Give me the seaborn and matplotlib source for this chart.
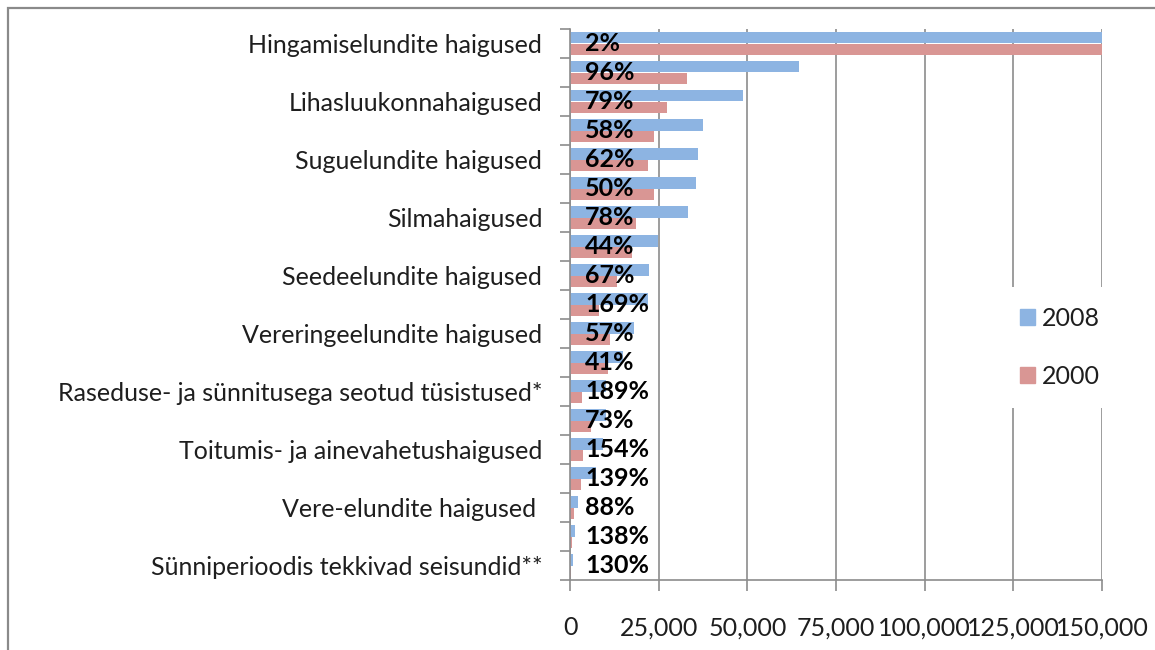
import pandas as pd
import seaborn as sns
import matplotlib.pyplot as plt
from matplotlib.patches import Rectangle
from matplotlib.ticker import FuncFormatter, FixedLocator

# haiguste grupid (näidatud on iga teine silt)
labels = ['Hingamiselundite haigused', '', 'Lihasluukonnahaigused', '',
          'Suguelundite haigused', '', 'Silmahaigused', '',
          'Seedeelundite haigused', '', 'Vereringeelundite haigused', '',
          'Raseduse- ja sünnitusega seotud tüsistused*', '',
          'Toitumis- ja ainevahetushaigused', '', 'Vere-elundite haigused ', '',
          'Sünniperioodis tekkivad seisundid**']
v2008 = [163000, 64600, 48800, 37600, 36200, 35400, 33300, 24800, 22400, 22100,
         18000, 14900, 10100, 10100, 9400, 7200, 2200, 1500, 750]
v2000 = [160000, 32900, 27400, 23600, 22100, 23600, 18500, 17400, 13300, 8200,
         11400, 10600, 3500, 5800, 3700, 3000, 1150, 630, 330]
pct = [2, 96, 79, 58, 62, 50, 78, 44, 67, 169, 57, 41, 189, 73, 154, 139, 88, 138, 130]
years = ['2008', '2000']
colors = ['#8DB4E2', '#D99694']

n = len(labels)
df = pd.DataFrame({
    'pos': list(range(n)) * 2,
    'value': v2008 + v2000,
    'year': ['2008'] * n + ['2000'] * n,
})

sns.set_style('white')
plt.rcParams['font.family'] = ['Lato', 'DejaVu Sans']

fig = plt.figure(figsize=(11.55, 6.5), dpi=100)
ax = fig.add_axes([570 / 1155, 1 - 580 / 650, 532 / 1155, 551 / 650])

sns.barplot(data=df, y='pos', x='value', hue='year', hue_order=years,
            palette=colors, orient='h', saturation=1, errorbar=None,
            linewidth=0, ax=ax, legend=True)

ax.set_xlim(0, 150000)
ax.set_xticks(range(0, 150001, 25000))
ax.xaxis.set_major_formatter(FuncFormatter(lambda v, p: f'{int(v):,}'))
ax.grid(axis='x', color='#8c8c8c', lw=1.2)
ax.set_axisbelow(True)

ax.set_yticks(range(n))
ax.set_yticklabels(labels)
ax.yaxis.set_minor_locator(FixedLocator([i - 0.5 for i in range(n + 1)]))
ax.tick_params(axis='y', which='major', length=0, pad=20, labelsize=18, labelcolor='#1e1e1e')
ax.tick_params(axis='y', which='minor', length=7, width=1.2, color='#8c8c8c', direction='out', left=True)
ax.tick_params(axis='x', length=8, width=1.2, color='#8c8c8c', direction='out', bottom=True,
               labelsize=18, labelcolor='#1e1e1e', pad=18)
ax.set_xlabel('')
ax.set_ylabel('')

for s in ['top', 'right']:
    ax.spines[s].set_visible(False)
for s in ['left', 'bottom']:
    ax.spines[s].set_color('#8c8c8c')
    ax.spines[s].set_linewidth(1.2)

# protsentuaalne kasv
for i, p in enumerate(pct):
    ax.annotate(f'{p}%', xy=(0, i), xytext=(15, 0), textcoords='offset pixels',
                ha='left', va='center', fontsize=18, fontweight='bold', color='black',
                annotation_clip=False)

ax.get_legend().remove()
handles = [Rectangle((0, 0), 1, 1, color=c) for c in colors]
fig.legend(handles, years, loc='center', bbox_to_anchor=(1060 / 1155, 1 - 347 / 650),
           fontsize=18, frameon=True, facecolor='white', edgecolor='none', framealpha=1,
           labelspacing=1.4, handlelength=0.6, handleheight=0.6, handletextpad=0.25,
           borderpad=0.8, labelcolor='#1e1e1e')

# raam
fig.add_artist(Rectangle((8 / 1155, -0.1), 1.2, 1.1 - 8 / 650, transform=fig.transFigure,
                         fill=False, edgecolor='#8a8a8a', lw=1.6))

plt.savefig('out.png', dpi=100)
